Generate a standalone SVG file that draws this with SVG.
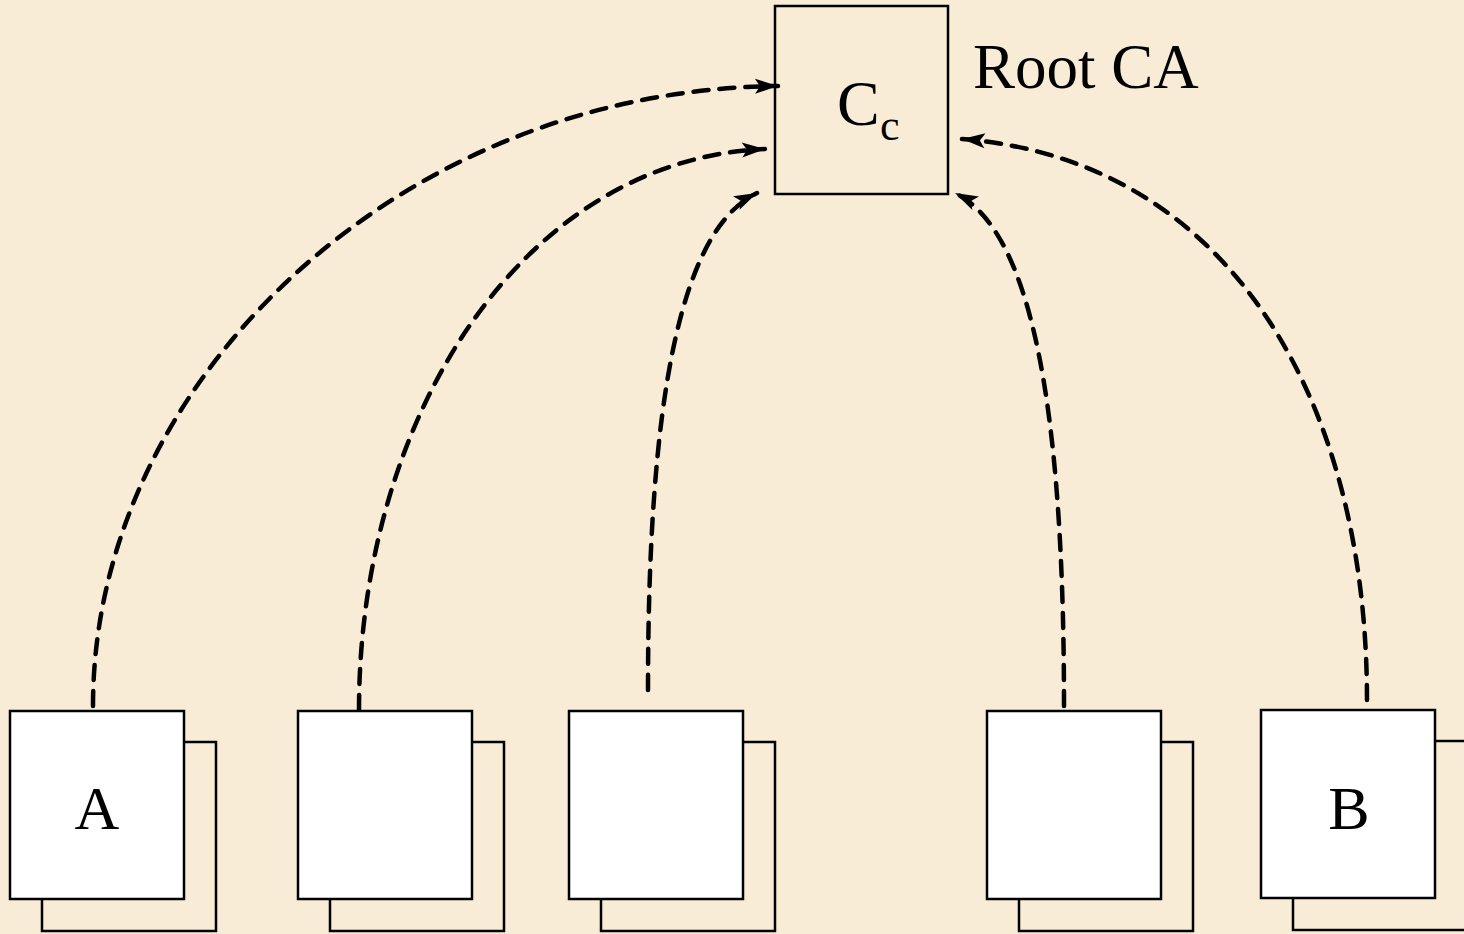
<svg xmlns="http://www.w3.org/2000/svg" width="1464" height="934" viewBox="0 0 1464 934">
<style>
.bg{fill:#f8ecd6}
.front{fill:#ffffff;stroke:#000;stroke-width:2.5}
.back{fill:none;stroke:#000;stroke-width:2.5}
.ca{fill:none;stroke:#000;stroke-width:2.5}
.conn{fill:none;stroke:#000;stroke-width:4.5;stroke-dasharray:15 11;stroke-linecap:round}
.t{font-family:"Liberation Serif","Times New Roman",serif;fill:#000}
</style>
<defs>
<marker id="ah" markerUnits="userSpaceOnUse" markerWidth="30" markerHeight="20" viewBox="0 0 30 20" refX="26" refY="10" orient="auto">
<path d="M26,10 L3,2.5 L8,10 L3,17.5 Z" fill="#000"/>
</marker>
</defs>
<rect class="bg" x="0" y="0" width="1464" height="934"/>
<g id="connectors">
<path class="conn" marker-end="url(#ah)" d="M93,706 C93,380 400,90 778,86"/>
<path class="conn" marker-end="url(#ah)" d="M359,710 C359,420 520,160 765,149"/>
<path class="conn" marker-end="url(#ah)" d="M648,690 C648,400 680,230 757,193"/>
<path class="conn" marker-end="url(#ah)" d="M1064,706 C1064,400 1030,230 955,193"/>
<path class="conn" marker-end="url(#ah)" d="M1367,700 C1367,400 1230,160 962,139"/>
</g>
<g id="rootca">
<rect class="ca" x="775" y="6" width="173" height="188"/>
<text class="t" x="837" y="125" font-size="64">C</text>
<text class="t" x="880" y="140" font-size="44">c</text>
<text class="t" x="973" y="88" font-size="63">Root CA</text>
</g>
<g id="nodeA">
<rect class="back" x="42" y="742" width="174" height="189"/>
<rect class="front" x="10" y="711" width="174" height="188"/>
<text class="t" x="97" y="829" font-size="62" text-anchor="middle">A</text>
</g>
<g id="node2">
<rect class="back" x="330" y="742" width="174" height="189"/>
<rect class="front" x="298" y="711" width="174" height="188"/>
</g>
<g id="node3">
<rect class="back" x="601" y="742" width="174" height="189"/>
<rect class="front" x="569" y="711" width="174" height="188"/>
</g>
<g id="node4">
<rect class="back" x="1019" y="742" width="174" height="189"/>
<rect class="front" x="987" y="711" width="174" height="188"/>
</g>
<g id="nodeB">
<rect class="back" x="1293" y="741" width="174" height="189"/>
<rect class="front" x="1261" y="710" width="174" height="188"/>
<text class="t" x="1349" y="829" font-size="62" text-anchor="middle">B</text>
</g>
</svg>
